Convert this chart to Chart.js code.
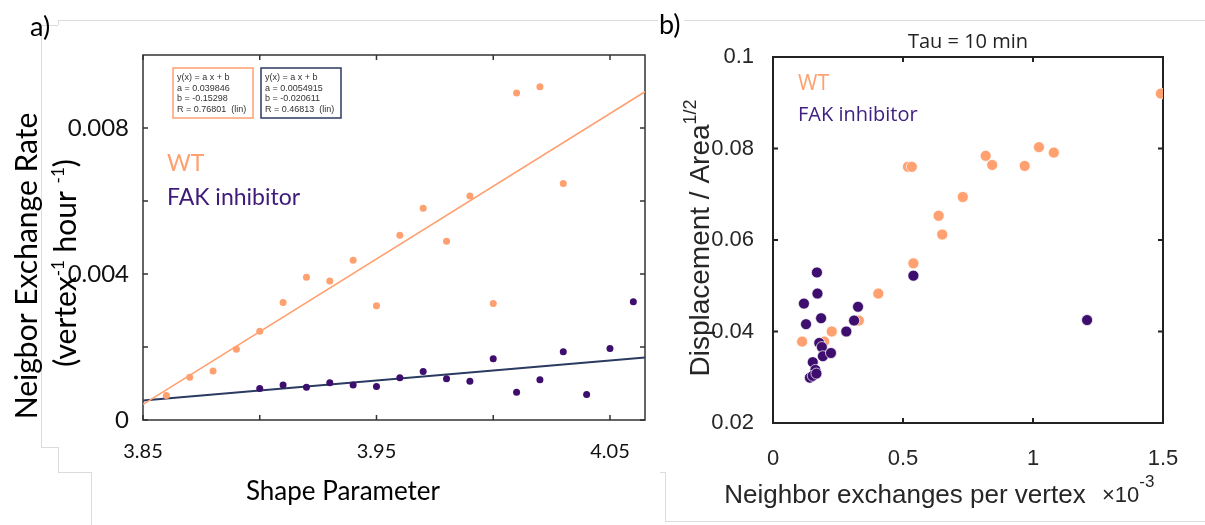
<!DOCTYPE html>
<html>
<head>
<meta charset="utf-8">
<script src="https://cdn.jsdelivr.net/npm/chart.js@4.4.1/dist/chart.umd.min.js"></script>
<style>
  body { margin: 0; background: #fff; width: 1205px; height: 525px; position: relative; overflow: hidden; }
  canvas { position: absolute; top: 0; }
  #chartA { left: 0; }
  #chartB { left: 660px; }
  .tag { position: absolute; font-family: Lato, sans-serif; font-size: 27px; color: #000; line-height: 1; }
  .edge { position: absolute; background: #dcdcdc; }
</style>
</head>
<body>
<!-- faint borders left over from the pasted panels -->
<div class="edge" style="left:58px;top:20px;width:600px;height:1px"></div>
<div class="edge" style="left:41px;top:25px;width:17px;height:1px"></div>
<div class="edge" style="left:58px;top:20px;width:1px;height:5px"></div>
<div class="edge" style="left:41px;top:25px;width:1px;height:422px"></div>
<div class="edge" style="left:41px;top:447px;width:17px;height:1px"></div>
<div class="edge" style="left:58px;top:447px;width:1px;height:25px"></div>
<div class="edge" style="left:58px;top:472px;width:33px;height:1px"></div>
<div class="edge" style="left:91px;top:472px;width:1px;height:53px"></div>
<div class="edge" style="left:684px;top:20px;width:521px;height:1px"></div>
<div class="edge" style="left:660px;top:472px;width:5px;height:1px"></div>
<div class="edge" style="left:665px;top:472px;width:1px;height:49px"></div>
<div class="edge" style="left:665px;top:521px;width:540px;height:1px"></div>

<canvas id="chartA" width="660" height="525"></canvas>
<canvas id="chartB" width="545" height="525"></canvas>
<div class="tag" style="left:30px;top:12px">a)</div>
<div class="tag" style="left:659px;top:10px">b)</div>

<script>
// ---- panel a) neighbour exchange rate vs shape parameter ----
const shapeWT = [3.86, 3.87, 3.88, 3.89, 3.90, 3.91, 3.92, 3.93, 3.94, 3.95, 3.96, 3.97, 3.98, 3.99, 4.00, 4.01, 4.02, 4.03];
const rateWT = [0.00067, 0.00117, 0.00134, 0.00194, 0.00243, 0.00322, 0.00391, 0.00381, 0.00438, 0.00313,
                0.00506, 0.00580, 0.00490, 0.00614, 0.00319, 0.00896, 0.00913, 0.00648];
const shapeFAK = [3.90, 3.91, 3.92, 3.93, 3.94, 3.95, 3.96, 3.97, 3.98, 3.99, 4.00, 4.01, 4.02, 4.03, 4.04, 4.05, 4.06];
const rateFAK = [0.00086, 0.00096, 0.00090, 0.00102, 0.00096, 0.00092, 0.00116, 0.00133, 0.00113, 0.00106,
                 0.00168, 0.00076, 0.00110, 0.00187, 0.00070, 0.00196, 0.00324];
// linear fits printed in the chart: [a, b]
const fitWT = [0.039846, -0.15298];
const fitFAK = [0.0054915, -0.020611];
const xTicksA = [3.85, 3.90, 3.95, 4.00, 4.05];
const xLabelsA = ['3.85', '', '3.95', '', '4.05'];
const yTicksA = [0, 0.002, 0.004, 0.006, 0.008];
const yLabelsA = ['0', '', '0.004', '', '0.008'];

// ---- panel b) displacement vs neighbour exchanges ----
const exWT = [1.492, 0.519, 0.534, 0.818, 0.843, 0.968, 1.023, 1.080, 0.730, 0.637, 0.651, 0.540, 0.405, 0.330, 0.226, 0.112, 0.197];
const dispWT = [0.0920, 0.0760, 0.0760, 0.0784, 0.0764, 0.0762, 0.0803, 0.0791, 0.0694, 0.0653, 0.0612, 0.0549, 0.0483, 0.0424, 0.0400, 0.0378, 0.0378];
const exFAK = [0.540, 1.208, 0.169, 0.171, 0.119, 0.127, 0.185, 0.327, 0.312, 0.282, 0.178, 0.188, 0.192, 0.223, 0.153, 0.163, 0.142, 0.153, 0.167];
const dispFAK = [0.0522, 0.0425, 0.0529, 0.0483, 0.0461, 0.0416, 0.0429, 0.0454, 0.0424, 0.0400, 0.0375, 0.0366, 0.0346, 0.0353, 0.0333, 0.0316, 0.0299, 0.0303, 0.0308];
const xTicksB = [0, 0.5, 1, 1.5];
const xLabelsB = ['0', '0.5', '1', '1.5'];
const yTicksB = [0.02, 0.04, 0.06, 0.08, 0.1];
const yLabelsB = ['0.02', '0.04', '0.06', '0.08', '0.1'];

const orange = '#FFA070';
const purple = '#3D0E6E';
const navy = '#2A3A60';

const zip = (xs, ys) => xs.map((x, i) => ({ x: x, y: ys[i] }));
const fitLine = (fit, x0, x1) => [{ x: x0, y: fit[0] * x0 + fit[1] }, { x: x1, y: fit[0] * x1 + fit[1] }];

// text with raised bits, e.g. exponents
function richText(ctx, parts, x, y, align) {
  let w = 0;
  parts.forEach(p => { ctx.font = p.font; w += ctx.measureText(p.t).width; });
  let cx = align === 'center' ? x - w / 2 : x;
  ctx.textAlign = 'left';
  parts.forEach(p => {
    ctx.font = p.font;
    ctx.fillText(p.t, cx, y - (p.rise || 0));
    cx += ctx.measureText(p.t).width;
  });
}

// box around the plot with inward ticks on all four sides
const framePlugin = {
  id: 'frame',
  beforeDatasetsDraw(chart, args, opts) {
    const { ctx, chartArea: a, scales: { x, y } } = chart;
    ctx.save();
    ctx.strokeStyle = opts.color;
    ctx.lineWidth = opts.width;
    ctx.strokeRect(a.left, a.top, a.right - a.left, a.bottom - a.top);
    ctx.beginPath();
    x.ticks.forEach(t => {
      const px = x.getPixelForValue(t.value);
      ctx.moveTo(px, a.bottom); ctx.lineTo(px, a.bottom - opts.tick);
      ctx.moveTo(px, a.top); ctx.lineTo(px, a.top + opts.tick);
    });
    y.ticks.forEach(t => {
      const py = y.getPixelForValue(t.value);
      ctx.moveTo(a.left, py); ctx.lineTo(a.left + opts.tick, py);
      ctx.moveTo(a.right, py); ctx.lineTo(a.right - opts.tick, py);
    });
    ctx.stroke();
    ctx.restore();
  }
};

const xMinA = 3.85, xMaxA = 4.065;

new Chart(document.getElementById('chartA'), {
  type: 'scatter',
  data: {
    datasets: [
      { label: 'WT', data: zip(shapeWT, rateWT), backgroundColor: orange, borderWidth: 0, pointRadius: 3.5 },
      { label: 'FAK inhibitor', data: zip(shapeFAK, rateFAK), backgroundColor: purple, borderWidth: 0, pointRadius: 3.5 },
      { label: 'WT fit', type: 'line', data: fitLine(fitWT, xMinA, xMaxA), borderColor: orange, borderWidth: 1.6, pointRadius: 0 },
      { label: 'FAK fit', type: 'line', data: fitLine(fitFAK, xMinA, xMaxA), borderColor: navy, borderWidth: 2, pointRadius: 0 }
    ]
  },
  options: {
    responsive: false,
    animation: false,
    layout: { padding: { top: 55, right: 15, left: 0, bottom: 0 } },
    plugins: {
      legend: { display: false },
      tooltip: { enabled: false },
      frame: { color: '#333', width: 1.5, tick: 5 }
    },
    scales: {
      x: {
        type: 'linear', min: xMinA, max: xMaxA,
        grid: { display: false }, border: { display: false },
        afterBuildTicks: s => { s.ticks = xTicksA.map(v => ({ value: v })); },
        afterFit: s => { s.height = 105; },
        ticks: {
          autoSkip: false, maxRotation: 0, padding: 12, color: '#111',
          font: { family: 'Lato', size: 20 },
          callback: (v, i) => xLabelsA[i]
        }
      },
      y: {
        type: 'linear', min: 0, max: 0.01,
        grid: { display: false }, border: { display: false },
        afterBuildTicks: s => { s.ticks = yTicksA.map(v => ({ value: v })); },
        afterFit: s => { s.width = 143; },
        ticks: {
          autoSkip: false, padding: 6, color: '#111',
          font: { family: 'Lato', size: 24 },
          callback: (v, i) => yLabelsA[i]
        }
      }
    }
  },
  plugins: [framePlugin, {
    id: 'textA',
    afterDraw(chart) {
      const ctx = chart.ctx;
      const a = chart.chartArea;
      ctx.save();
      ctx.fillStyle = '#000';
      ctx.textBaseline = 'alphabetic';
      // y axis title, two lines
      ctx.save();
      ctx.translate(37, 266);
      ctx.rotate(-Math.PI / 2);
      richText(ctx, [{ t: 'Neigbor Exchange Rate', font: '30px Lato' }], 0, 0, 'center');
      ctx.restore();
      ctx.save();
      ctx.translate(76, 263);
      ctx.rotate(-Math.PI / 2);
      richText(ctx, [
        { t: '(vertex', font: '30px Lato' },
        { t: '-1', font: '17px Lato', rise: 12 },
        { t: ' hour ', font: '30px Lato' },
        { t: '-1', font: '17px Lato', rise: 12 },
        { t: ')', font: '30px Lato' }
      ], 0, 0, 'center');
      ctx.restore();
      // x axis title
      richText(ctx, [{ t: 'Shape Parameter', font: '26px Lato' }], 343, 500, 'center');

      // series labels
      ctx.textBaseline = 'middle';
      ctx.font = '23px Lato';
      ctx.fillStyle = orange;
      ctx.fillText('WT', a.left + 24, 164);
      ctx.fillStyle = '#3F1A78';
      ctx.fillText('FAK inhibitor', a.left + 24, 198);

      // fit boxes
      const boxes = [
        { x: 173, col: orange, fit: fitWT, r: '0.76801' },
        { x: 261, col: navy, fit: fitFAK, r: '0.46813' }
      ];
      boxes.forEach(b => {
        ctx.strokeStyle = b.col;
        ctx.lineWidth = 1.5;
        ctx.strokeRect(b.x, 68, 80, 50);
        ctx.fillStyle = '#333';
        ctx.font = '9px "Liberation Sans"';
        ctx.textAlign = 'left';
        const lines = ['y(x) = a x + b', 'a = ' + b.fit[0], 'b = ' + b.fit[1], 'R = ' + b.r + '  (lin)'];
        lines.forEach((l, i) => ctx.fillText(l, b.x + 4, 78 + i * 10.5));
      });
      ctx.restore();
    }
  }]
});

new Chart(document.getElementById('chartB'), {
  type: 'scatter',
  data: {
    datasets: [
      { label: 'FAK inhibitor', data: zip(exFAK, dispFAK), backgroundColor: purple, borderColor: '#fff', borderWidth: 0.7, pointRadius: 5.5 },
      { label: 'WT', data: zip(exWT, dispWT), backgroundColor: orange, borderColor: '#fff', borderWidth: 0.7, pointRadius: 5.5 }
    ]
  },
  options: {
    responsive: false,
    animation: false,
    layout: { padding: { top: 57, right: 42, left: 0, bottom: 0 } },
    plugins: {
      legend: { display: false },
      tooltip: { enabled: false },
      frame: { color: '#222', width: 2, tick: 5 }
    },
    scales: {
      x: {
        type: 'linear', min: 0, max: 1.5,
        grid: { display: false }, border: { display: false },
        afterBuildTicks: s => { s.ticks = xTicksB.map(v => ({ value: v })); },
        afterFit: s => { s.height = 102; },
        ticks: {
          autoSkip: false, maxRotation: 0, padding: 15, color: '#262626',
          font: { family: 'Liberation Sans', size: 22 },
          callback: (v, i) => xLabelsB[i]
        }
      },
      y: {
        type: 'linear', min: 0.02, max: 0.1,
        grid: { display: false }, border: { display: false },
        afterBuildTicks: s => { s.ticks = yTicksB.map(v => ({ value: v })); },
        afterFit: s => { s.width = 113; },
        ticks: {
          autoSkip: false, padding: 11, color: '#262626',
          font: { family: 'Liberation Sans', size: 22 },
          callback: (v, i) => yLabelsB[i]
        }
      }
    }
  },
  plugins: [framePlugin, {
    id: 'textB',
    afterDraw(chart) {
      const ctx = chart.ctx;
      const a = chart.chartArea;
      const mid = (a.left + a.right) / 2;
      ctx.save();
      ctx.fillStyle = '#222';
      ctx.textBaseline = 'middle';
      ctx.textAlign = 'center';
      ctx.font = '20px "Open Sans"';
      ctx.fillText('Tau = 10 min', mid, 42);

      ctx.textBaseline = 'alphabetic';
      ctx.fillStyle = '#262626';
      ctx.save();
      ctx.translate(49, 238);
      ctx.rotate(-Math.PI / 2);
      richText(ctx, [
        { t: 'Displacement / Area', font: '28px "Liberation Sans"' },
        { t: '1/2', font: '18px "Liberation Sans"', rise: 13 }
      ], 0, 0, 'center');
      ctx.restore();

      richText(ctx, [{ t: 'Neighbor exchanges per vertex', font: '26px "Liberation Sans"' }], 245, 503, 'center');
      richText(ctx, [
        { t: '\u00d710', font: '22px "Liberation Sans"' },
        { t: '-3', font: '17px "Liberation Sans"', rise: 15 }
      ], 442, 502, 'left');

      ctx.textBaseline = 'middle';
      ctx.textAlign = 'left';
      ctx.font = '21px "Open Sans"';
      ctx.fillStyle = orange;
      ctx.fillText('WT', a.left + 25, 84);
      ctx.font = '20px "Open Sans"';
      ctx.fillStyle = '#402080';
      ctx.fillText('FAK inhibitor', a.left + 25, 115);
      ctx.restore();
    }
  }]
});
</script>
</body>
</html>
